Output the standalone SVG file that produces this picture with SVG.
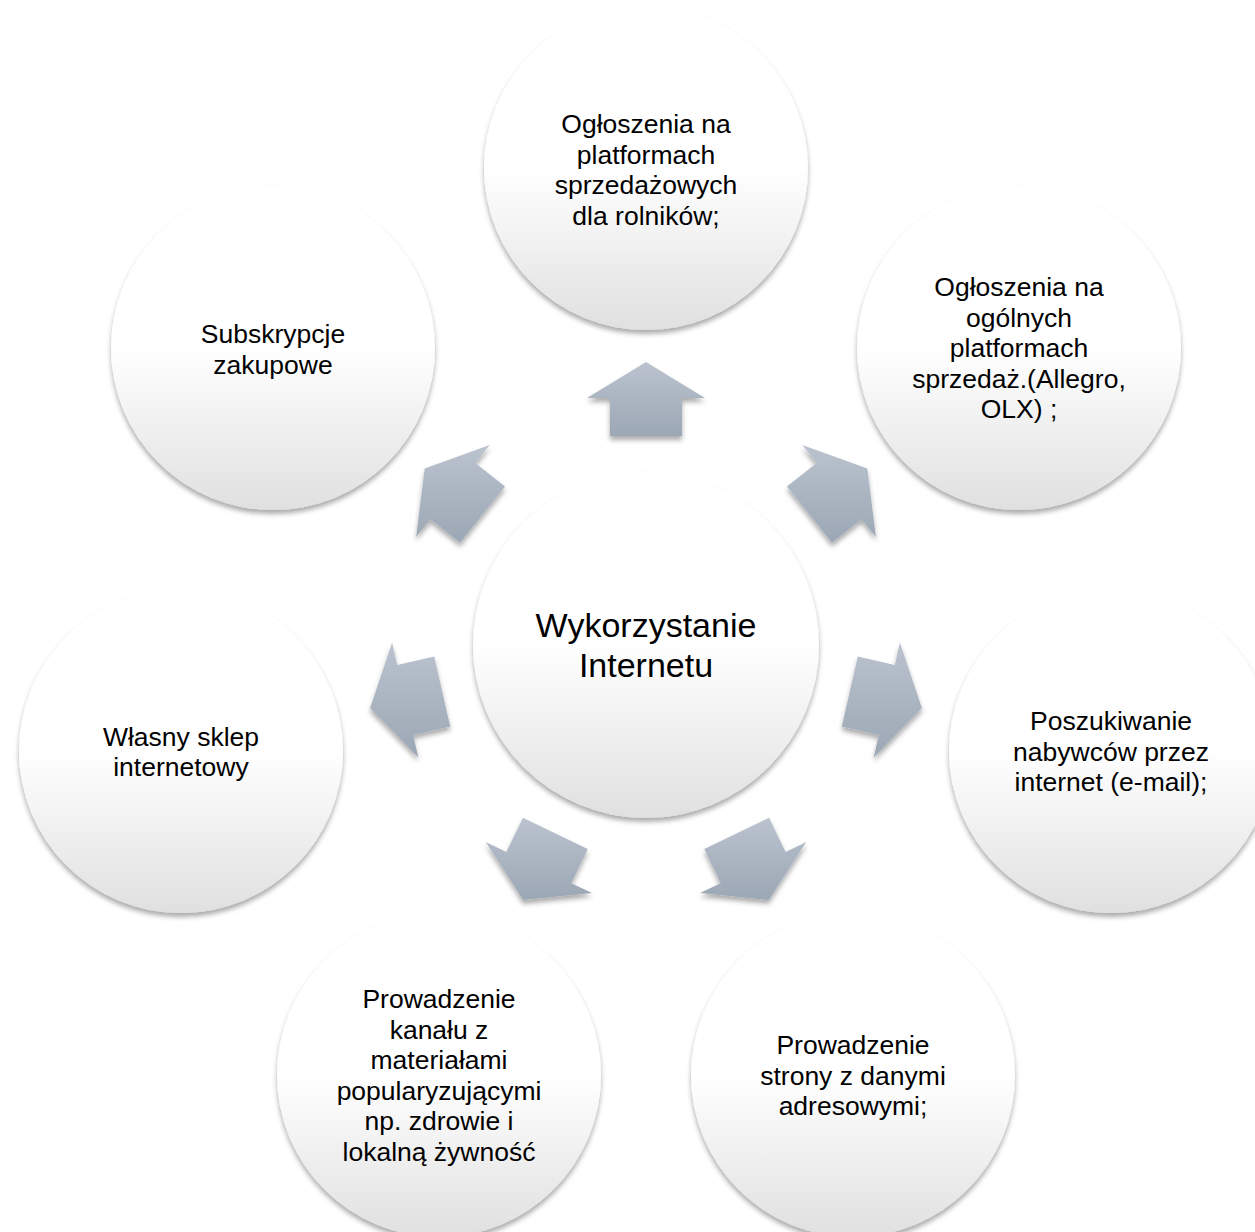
<svg xmlns="http://www.w3.org/2000/svg" width="1255" height="1232" viewBox="0 0 1255 1232">
<defs>
<linearGradient id="circFill" x1="0" y1="0" x2="0" y2="1">
<stop offset="0" stop-color="#ffffff"/>
<stop offset="0.5" stop-color="#ffffff"/>
<stop offset="1" stop-color="#e0e0e0"/>
</linearGradient>
<linearGradient id="arrFill" x1="0" y1="0" x2="0" y2="1">
<stop offset="0" stop-color="#bac3ce"/>
<stop offset="1" stop-color="#9ca7b5"/>
</linearGradient>
<filter id="shadow" x="-20%" y="-20%" width="140%" height="140%">
<feDropShadow dx="0" dy="4" stdDeviation="2.5" flood-color="#000" flood-opacity="0.33"/>
</filter>
</defs>
<style>
.node circle{fill:url(#circFill);filter:url(#shadow);}
.arrow{fill:url(#arrFill);filter:url(#shadow);}
text{font-family:"Liberation Sans",Arial,sans-serif;fill:#000;text-anchor:middle;}
.t{font-size:26.5px;}
.c{font-size:34px;}
</style>
<rect width="1255" height="1232" fill="#ffffff"/>

<g id="connectors">
<polygon class="arrow" points="646,362 705,398 682,398 682,436 610,436 610,398 587,398"/>
<polygon class="arrow" points="867.3,468.6 875.9,537.1 861.6,519.2 831.9,542.8 787.0,486.5 816.7,462.9 802.3,444.9"/>
<polygon class="arrow" points="921.9,708.0 873.7,757.5 878.8,735.1 841.8,726.6 857.8,656.4 894.8,664.9 899.9,642.4"/>
<polygon class="arrow" points="768.8,900.0 700.0,893.1 720.7,883.2 704.3,848.9 769.1,817.7 785.6,851.9 806.3,841.9"/>
<polygon class="arrow" points="523.2,900.0 592.0,893.1 571.3,883.2 587.7,848.9 522.9,817.7 506.4,851.9 485.7,841.9"/>
<polygon class="arrow" points="370.1,708.0 418.3,757.5 413.2,735.1 450.2,726.6 434.2,656.4 397.2,664.9 392.1,642.4"/>
<polygon class="arrow" points="424.7,468.6 416.1,537.1 430.4,519.2 460.1,542.8 505.0,486.5 475.3,462.9 489.7,444.9"/>
</g>

<g id="node-center" class="node">
<circle cx="646" cy="645" r="173"/>
<text class="c" x="646" y="637">Wykorzystanie</text>
<text class="c" x="646" y="677">Internetu</text>
</g>

<g id="node-top" class="node">
<circle cx="646" cy="168" r="162"/>
<text class="t" x="646" y="133">Ogłoszenia na</text>
<text class="t" x="646" y="163.5">platformach</text>
<text class="t" x="646" y="194">sprzedażowych</text>
<text class="t" x="646" y="224.5">dla rolników;</text>
</g>

<g id="node-top-right" class="node">
<circle cx="1019" cy="348" r="162"/>
<text class="t" x="1019" y="296">Ogłoszenia na</text>
<text class="t" x="1019" y="326.5">ogólnych</text>
<text class="t" x="1019" y="357">platformach</text>
<text class="t" x="1019" y="387.5">sprzedaż.(Allegro,</text>
<text class="t" x="1019" y="418">OLX) ;</text>
</g>

<g id="node-right" class="node">
<circle cx="1111" cy="751" r="162"/>
<text class="t" x="1111" y="730">Poszukiwanie</text>
<text class="t" x="1111" y="760.5">nabywców przez</text>
<text class="t" x="1111" y="791">internet (e-mail);</text>
</g>

<g id="node-bottom-right" class="node">
<circle cx="853" cy="1075" r="162"/>
<text class="t" x="853" y="1054">Prowadzenie</text>
<text class="t" x="853" y="1084.5">strony z danymi</text>
<text class="t" x="853" y="1115">adresowymi;</text>
</g>

<g id="node-bottom-left" class="node">
<circle cx="439" cy="1075" r="162"/>
<text class="t" x="439" y="1008">Prowadzenie</text>
<text class="t" x="439" y="1038.5">kanału z</text>
<text class="t" x="439" y="1069">materiałami</text>
<text class="t" x="439" y="1099.5">popularyzującymi</text>
<text class="t" x="439" y="1130">np. zdrowie i</text>
<text class="t" x="439" y="1160.5">lokalną żywność</text>
</g>

<g id="node-left" class="node">
<circle cx="181" cy="751" r="162"/>
<text class="t" x="181" y="745.5">Własny sklep</text>
<text class="t" x="181" y="776">internetowy</text>
</g>

<g id="node-top-left" class="node">
<circle cx="273" cy="348" r="162"/>
<text class="t" x="273" y="343">Subskrypcje</text>
<text class="t" x="273" y="373.5">zakupowe</text>
</g>
</svg>
